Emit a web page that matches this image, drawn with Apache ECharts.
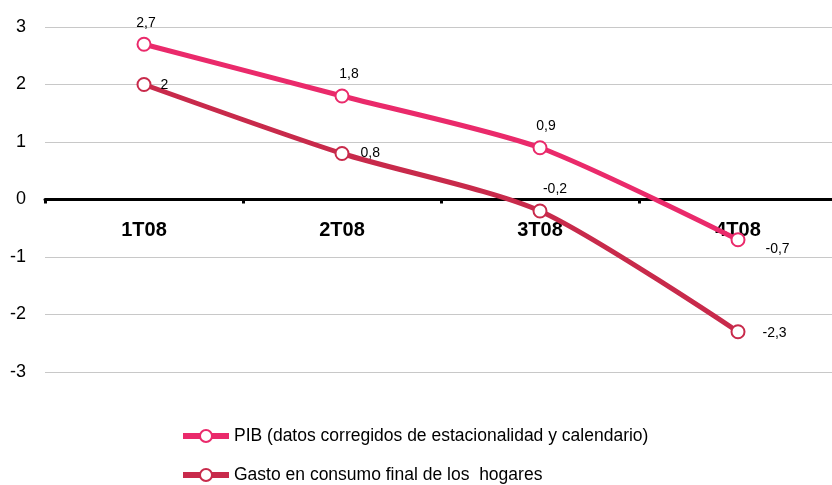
<!DOCTYPE html>
<html>
<head>
<meta charset="utf-8">
<script src="https://cdn.jsdelivr.net/npm/echarts@6/dist/echarts.min.js"></script>
<style>
    html, body { margin: 0; padding: 0; background: #fff; }
    #chart { width: 832px; height: 485px; }
</style>
</head>
<body>
<div id="chart"></div>
<script>
var quarters = ['1T08', '2T08', '3T08', '4T08'];
var pibValues = [2.7, 1.8, 0.9, -0.7];
var gastoValues = [2, 0.8, -0.2, -2.3];
var pibName = 'PIB (datos corregidos de estacionalidad y calendario)';
var gastoName = 'Gasto en consumo final de los  hogares';

function fmt(p) {
    return String(p.value).replace('.', ',');
}

// posicion de cada etiqueta (como en el original)
var pibLabels = [
    { position: 'top', offset: [2, -2] },
    { position: 'top', offset: [7, -2] },
    { position: 'top', offset: [6, -2] },
    { position: 'right', offset: [15, 9] }
];
var gastoLabels = [
    { position: 'right', offset: [4, 1] },
    { position: 'right', offset: [6, 0] },
    { position: 'top', offset: [15, -2] },
    { position: 'right', offset: [12, 1] }
];

function buildData(values, labels) {
    var out = [];
    for (var i = 0; i < values.length; i++) {
        out.push({ value: values[i], label: labels[i] });
    }
    return out;
}

var chart = echarts.init(document.getElementById('chart'));
var font = '"Liberation Sans", Arial, Helvetica, sans-serif';
var legendCommon = {
    left: 175,
    itemWidth: 46,
    itemHeight: 15,
    lineStyle: { width: 6 },
    textStyle: { fontSize: 17.5, color: '#000', fontFamily: font }
};
chart.setOption({
    animation: false,
    textStyle: { fontFamily: font },
    grid: {
        left: 45,
        width: 792,
        top: 27,
        height: 345,
        outerBoundsMode: 'none'
    },
    legend: [
        echarts.util.extend({ top: 422, data: [pibName] }, legendCommon),
        echarts.util.extend({ top: 461, data: [gastoName] }, legendCommon)
    ],
    xAxis: {
        type: 'category',
        data: quarters,
        boundaryGap: true,
        axisLine: { onZero: true, lineStyle: { color: '#000', width: 3 } },
        axisTick: { show: true, length: 4, lineStyle: { color: '#000', width: 3 } },
        // etiquetas pegadas a la linea del cero
        axisLabel: { fontSize: 20, fontWeight: 'bold', color: '#000', margin: -152 },
        splitLine: { show: false }
    },
    yAxis: {
        type: 'value',
        min: -3,
        max: 3,
        interval: 1,
        axisLine: { show: false },
        axisTick: { show: false },
        axisLabel: { fontSize: 18, color: '#000', margin: 19 },
        splitLine: { lineStyle: { color: '#c8c8c8', width: 1 } }
    },
    series: [
        {
            name: pibName,
            type: 'line',
            smooth: 0.25,
            data: buildData(pibValues, pibLabels),
            symbol: 'circle',
            symbolSize: 13,
            color: '#ea2a6b',
            lineStyle: { color: '#ea2a6b', width: 5 },
            itemStyle: { color: '#fff', borderColor: '#ea2a6b', borderWidth: 2 },
            label: { show: true, formatter: fmt, fontSize: 14, color: '#000' },
            z: 3
        },
        {
            name: gastoName,
            type: 'line',
            smooth: 0.25,
            data: buildData(gastoValues, gastoLabels),
            symbol: 'circle',
            symbolSize: 13,
            color: '#c82a4b',
            lineStyle: { color: '#c82a4b', width: 5 },
            itemStyle: { color: '#fff', borderColor: '#c82a4b', borderWidth: 2 },
            label: { show: true, formatter: fmt, fontSize: 14, color: '#000' },
            z: 2
        }
    ]
});
</script>
</body>
</html>
